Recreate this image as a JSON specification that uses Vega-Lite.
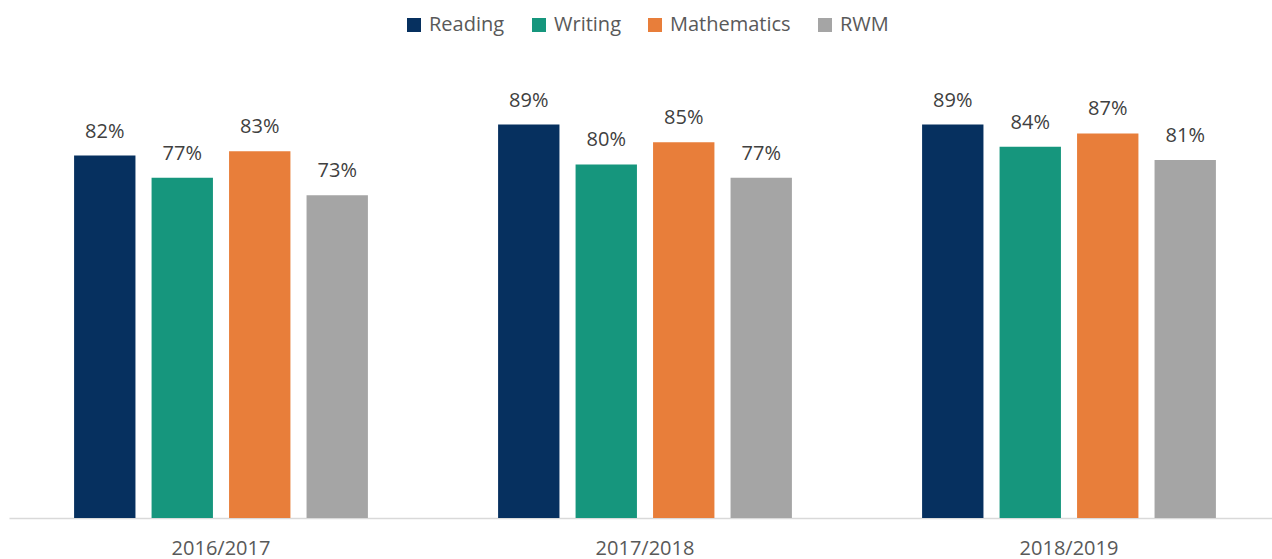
{
  "$schema": "https://vega.github.io/schema/vega-lite/v6.json",
  "width": 1263,
  "height": 442,
  "autosize": {"type": "none"},
  "padding": {"left": 9, "top": 76, "right": 0, "bottom": 41},
  "background": "white",
  "config": {"view": {"stroke": null}, "font": "Open Sans"},
  "data": {
    "values": [
      {"year": "2016/2017", "subject": "Reading", "value": 0.82},
      {"year": "2016/2017", "subject": "Writing", "value": 0.77},
      {"year": "2016/2017", "subject": "Mathematics", "value": 0.83},
      {"year": "2016/2017", "subject": "RWM", "value": 0.73},
      {"year": "2017/2018", "subject": "Reading", "value": 0.89},
      {"year": "2017/2018", "subject": "Writing", "value": 0.80},
      {"year": "2017/2018", "subject": "Mathematics", "value": 0.85},
      {"year": "2017/2018", "subject": "RWM", "value": 0.77},
      {"year": "2018/2019", "subject": "Reading", "value": 0.89},
      {"year": "2018/2019", "subject": "Writing", "value": 0.84},
      {"year": "2018/2019", "subject": "Mathematics", "value": 0.87},
      {"year": "2018/2019", "subject": "RWM", "value": 0.81}
    ]
  },
  "encoding": {
    "x": {
      "field": "year",
      "type": "nominal",
      "sort": null,
      "scale": {"paddingInner": 0, "paddingOuter": 0, "range": [0, 1272]},
      "axis": {
        "title": null,
        "labelAngle": 0,
        "ticks": false,
        "tickSize": 0,
        "domainColor": "#d9d9d9",
        "domainWidth": 1.5,
        "labelFontSize": 20,
        "labelColor": "#595959",
        "labelBaseline": "alphabetic",
        "labelPadding": 36
      }
    },
    "xOffset": {
      "field": "subject",
      "type": "nominal",
      "sort": ["Reading", "Writing", "Mathematics", "RWM"],
      "scale": {"paddingInner": 0.208, "paddingOuter": 0.84}
    },
    "y": {
      "field": "value",
      "type": "quantitative",
      "scale": {"domain": [0, 1]},
      "axis": null
    }
  },
  "layer": [
    {
      "mark": {"type": "bar"},
      "encoding": {
        "color": {
          "field": "subject",
          "type": "nominal",
          "sort": ["Reading", "Writing", "Mathematics", "RWM"],
          "scale": {
            "domain": ["Reading", "Writing", "Mathematics", "RWM"],
            "range": ["#06305f", "#16967d", "#e87e3a", "#a5a5a5"]
          },
          "legend": {
            "orient": "none",
            "legendX": 395,
            "legendY": -61,
            "direction": "horizontal",
            "columns": 4,
            "title": null,
            "symbolType": "square",
            "symbolSize": 196,
            "symbolStrokeWidth": 0,
            "labelFontSize": 20,
            "labelColor": "#595959",
            "labelFont": "Open Sans",
            "columnPadding": 24,
            "labelOffset": 5,
            "padding": 0
          }
        }
      }
    },
    {
      "mark": {"type": "text", "dy": -18, "baseline": "alphabetic", "fontSize": 20, "color": "#404040"},
      "encoding": {
        "text": {"field": "value", "type": "quantitative", "format": ".0%"}
      }
    }
  ]
}
